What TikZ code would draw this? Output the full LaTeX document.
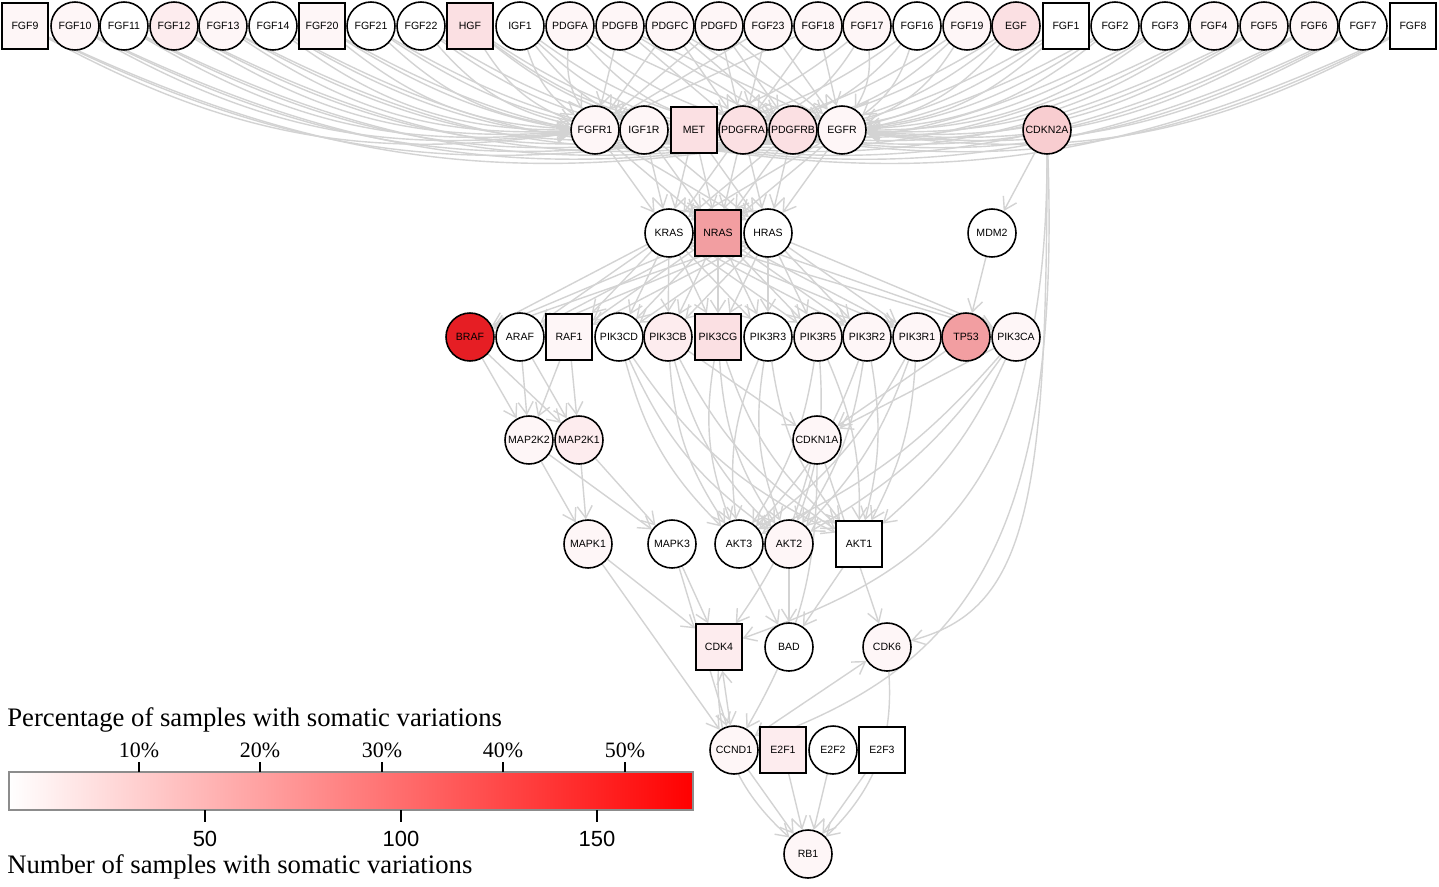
\documentclass[tikz,border=0pt]{standalone}
\usepackage{fontspec}
\setmainfont{Liberation Serif}
\setsansfont{Liberation Sans}
\usetikzlibrary{arrows.meta,backgrounds}
\definecolor{linkgray}{RGB}{211,211,211}
\definecolor{barframe}{RGB}{140,140,140}
\definecolor{mutA}{RGB}{254,246,247}
\definecolor{mutB}{RGB}{253,236,238}
\definecolor{mutC}{RGB}{251,224,227}
\definecolor{mutD}{RGB}{248,205,208}
\definecolor{mutE}{RGB}{242,158,161}
\definecolor{mutF}{RGB}{230,30,36}

\begin{document}
\begin{tikzpicture}[
      x=0.02cm, y=-0.02cm,
      gene/.style={circle, draw=black, line width=0.9pt, fill=white, minimum size=0.96cm,
        inner sep=0pt, font=\sffamily\fontsize{6}{7}\selectfont},
      genebox/.style={gene, rectangle, line width=0.7pt, minimum size=0.92cm},
      link/.style={draw=linkgray, line width=0.8pt, -{Straight Barb[length=2.4mm,width=3mm]}},
      twoway/.style={link, {Straight Barb[length=2.4mm,width=3mm]}-{Straight Barb[length=2.4mm,width=3mm]}},
      legtitle/.style={anchor=base west, inner sep=0, font=\fontsize{15.2}{17}\selectfont},
      pctlab/.style={anchor=base, inner sep=0, font=\fontsize{12.5}{14}\selectfont},
      numlab/.style={anchor=base, inner sep=0, font=\sffamily\fontsize{12.5}{14}\selectfont}
  ]
  \useasboundingbox (0,0) rectangle (1439,886);

  \node[genebox, fill=mutA] (FGF9) at (25,26) {FGF9};
  \node[gene, fill=mutA] (FGF10) at (75,26) {FGF10};
  \node[gene] (FGF11) at (124,26) {FGF11};
  \node[gene, fill=mutB] (FGF12) at (174,26) {FGF12};
  \node[gene, fill=mutA] (FGF13) at (223,26) {FGF13};
  \node[gene] (FGF14) at (273,26) {FGF14};
  \node[genebox, fill=mutA] (FGF20) at (322,26) {FGF20};
  \node[gene] (FGF21) at (371,26) {FGF21};
  \node[gene] (FGF22) at (421,26) {FGF22};
  \node[genebox, fill=mutC] (HGF) at (470,26) {HGF};
  \node[gene] (IGF1) at (520,26) {IGF1};
  \node[gene, fill=mutA] (PDGFA) at (570,26) {PDGFA};
  \node[gene, fill=mutA] (PDGFB) at (620,26) {PDGFB};
  \node[gene, fill=mutA] (PDGFC) at (670,26) {PDGFC};
  \node[gene, fill=mutA] (PDGFD) at (719,26) {PDGFD};
  \node[gene, fill=mutA] (FGF23) at (768,26) {FGF23};
  \node[gene, fill=mutA] (FGF18) at (818,26) {FGF18};
  \node[gene, fill=mutA] (FGF17) at (867,26) {FGF17};
  \node[gene] (FGF16) at (917,26) {FGF16};
  \node[gene, fill=mutA] (FGF19) at (967,26) {FGF19};
  \node[gene, fill=mutC] (EGF) at (1016,26) {EGF};
  \node[genebox] (FGF1) at (1066,26) {FGF1};
  \node[gene] (FGF2) at (1115,26) {FGF2};
  \node[gene] (FGF3) at (1165,26) {FGF3};
  \node[gene, fill=mutA] (FGF4) at (1214,26) {FGF4};
  \node[gene, fill=mutA] (FGF5) at (1264,26) {FGF5};
  \node[gene, fill=mutA] (FGF6) at (1314,26) {FGF6};
  \node[gene] (FGF7) at (1363,26) {FGF7};
  \node[genebox] (FGF8) at (1413,26) {FGF8};

  \node[gene, fill=mutA] (FGFR1) at (595,130) {FGFR1};
  \node[gene, fill=mutA] (IGF1R) at (644,130) {IGF1R};
  \node[genebox, fill=mutC] (MET) at (694,130) {MET};
  \node[gene, fill=mutC] (PDGFRA) at (743,130) {PDGFRA};
  \node[gene, fill=mutC] (PDGFRB) at (793,130) {PDGFRB};
  \node[gene, fill=mutA] (EGFR) at (842,130) {EGFR};
  \node[gene, fill=mutD] (CDKN2A) at (1047,130) {CDKN2A};

  \node[gene] (KRAS) at (669,233) {KRAS};
  \node[genebox, fill=mutE] (NRAS) at (718,233) {NRAS};
  \node[gene] (HRAS) at (768,233) {HRAS};
  \node[gene] (MDM2) at (992,233) {MDM2};

  \node[gene, fill=mutF] (BRAF) at (470,337) {BRAF};
  \node[gene] (ARAF) at (520,337) {ARAF};
  \node[genebox, fill=mutA] (RAF1) at (569,337) {RAF1};
  \node[gene] (PIK3CD) at (619,337) {PIK3CD};
  \node[gene, fill=mutB] (PIK3CB) at (668,337) {PIK3CB};
  \node[genebox, fill=mutC] (PIK3CG) at (718,337) {PIK3CG};
  \node[gene] (PIK3R3) at (768,337) {PIK3R3};
  \node[gene, fill=mutA] (PIK3R5) at (818,337) {PIK3R5};
  \node[gene, fill=mutA] (PIK3R2) at (867,337) {PIK3R2};
  \node[gene, fill=mutA] (PIK3R1) at (917,337) {PIK3R1};
  \node[gene, fill=mutE] (TP53) at (966,337) {TP53};
  \node[gene, fill=mutA] (PIK3CA) at (1016,337) {PIK3CA};

  \node[gene, fill=mutA] (MAP2K2) at (529,440) {MAP2K2};
  \node[gene, fill=mutB] (MAP2K1) at (579,440) {MAP2K1};
  \node[gene, fill=mutA] (CDKN1A) at (817,440) {CDKN1A};

  \node[gene, fill=mutA] (MAPK1) at (588,544) {MAPK1};
  \node[gene] (MAPK3) at (672,544) {MAPK3};
  \node[gene] (AKT3) at (739,544) {AKT3};
  \node[gene, fill=mutA] (AKT2) at (789,544) {AKT2};
  \node[genebox] (AKT1) at (859,544) {AKT1};

  \node[genebox, fill=mutB] (CDK4) at (719,647) {CDK4};
  \node[gene] (BAD) at (789,647) {BAD};
  \node[gene, fill=mutA] (CDK6) at (887,647) {CDK6};

  \node[gene, fill=mutA] (CCND1) at (734,750) {CCND1};
  \node[genebox, fill=mutB] (E2F1) at (783,750) {E2F1};
  \node[gene] (E2F2) at (833,750) {E2F2};
  \node[genebox] (E2F3) at (882,750) {E2F3};

  \node[gene, fill=mutA] (RB1) at (808,854) {RB1};

  \begin{scope}[on background layer]
    \foreach \l in {FGF9,FGF10,FGF11,FGF12,FGF13,FGF14,FGF20,FGF21,FGF22,HGF,IGF1,PDGFA}
      \foreach \r in {FGFR1,PDGFRA,EGFR}
        \draw[link] (\l) to[bend right=18] (\r);
    \foreach \l in {PDGFB,PDGFC,PDGFD,FGF23,FGF18}
      \foreach \r in {FGFR1,PDGFRA,EGFR}
        \draw[link] (\l) -- (\r);
    \foreach \l in {FGF17,FGF16,FGF19,EGF,FGF1,FGF2,FGF3,FGF4,FGF5,FGF6,FGF7,FGF8}
      \foreach \r in {FGFR1,PDGFRA,EGFR}
        \draw[link] (\l) to[bend left=18] (\r);
    \draw[link] (HGF) to[bend right=12] (MET);
    \draw[link] (IGF1) to[bend right=12] (IGF1R);
    \foreach \l in {PDGFA,PDGFB,PDGFC,PDGFD}
      \draw[link] (\l) -- (PDGFRB);

    \foreach \r in {FGFR1,IGF1R,MET,PDGFRA,PDGFRB,EGFR}
      \foreach \s in {KRAS,NRAS,HRAS}
        \draw[link] (\r) -- (\s);

    \foreach \s in {KRAS,NRAS,HRAS}
      \foreach \t in {BRAF,ARAF,RAF1,PIK3CD,PIK3CB,PIK3CG,PIK3R3,PIK3R5,PIK3R2,PIK3R1,PIK3CA}
        \draw[link] (\s) -- (\t);
    \draw[link] (CDKN2A) -- (MDM2);
    \draw[link] (MDM2) -- (TP53);

    \foreach \k in {BRAF,ARAF,RAF1}
      \foreach \m in {MAP2K2,MAP2K1}
        \draw[link] (\k) -- (\m);
    \foreach \p in {PIK3CD,PIK3CB,PIK3CG,PIK3R3}
      \foreach \a in {AKT3,AKT2,AKT1}
        \draw[link] (\p) to[bend right=15] (\a);
    \foreach \p in {PIK3R5,PIK3R2,PIK3R1,PIK3CA}
      \foreach \a in {AKT3,AKT2,AKT1}
        \draw[link] (\p) to[bend left=12] (\a);
    \foreach \p in {PIK3CB,TP53,PIK3CA}
      \draw[link] (\p) -- (CDKN1A);

    \foreach \m in {MAP2K2,MAP2K1}
      \foreach \k in {MAPK1,MAPK3}
        \draw[link] (\m) -- (\k);
    \foreach \k in {MAPK1,MAPK3}{
      \draw[link] (\k) -- (CDK4);
      \draw[link] (\k) -- (CCND1);
    }
    \foreach \a in {AKT3,AKT2,AKT1}
      \draw[link] (\a) -- (BAD);
    \draw[link] (CDKN1A) to[bend left=10] (CDK4);
    \draw[link] (CDKN1A) -- (CDK6);
    \draw[link] (CDKN1A) to[bend left=15] (CCND1);
    \draw[link] (CDKN2A) to[out=-90, in=20, out looseness=1.6, in looseness=0.8] (CDK4);
    \draw[link] (CDKN2A) to[out=-90, in=15, out looseness=1.8, in looseness=0.6] (CDK6);
    \draw[link] (CDKN2A) to[out=-88, in=20, out looseness=1.6, in looseness=0.8] (CCND1);
    \draw[twoway] (CCND1) -- (CDK4);
    \draw[twoway] (CCND1) -- (CDK6);

    \draw[link] (CDK4) to[bend right=25] (RB1);
    \draw[link] (CDK6) to[bend left=25] (RB1);
    \foreach \e in {CCND1,E2F1,E2F2,E2F3}
      \draw[link] (\e) -- (RB1);
  \end{scope}

  \node[legtitle] (pcttitle) at (7,726) {Percentage of samples with somatic variations};
  \shade[left color=white, right color=red] (9,772) rectangle (693,810);
  \draw[barframe, line width=0.6pt] (9,772) rectangle (693,810);
  \foreach \x/\p in {139/10,260/20,382/30,503/40,625/50}{
    \draw[line width=0.6pt] (\x,772) -- (\x,762);
    \node[pctlab] (pct\p) at (\x,757) {\p\%};
  }
  \foreach \x/\n in {205/50,401/100,597/150}{
    \draw[line width=0.6pt] (\x,810) -- (\x,822);
    \node[numlab] (num\n) at (\x,846) {\n};
  }
  \node[legtitle] (numtitle) at (7,873) {Number of samples with somatic variations};
\end{tikzpicture}
\end{document}
